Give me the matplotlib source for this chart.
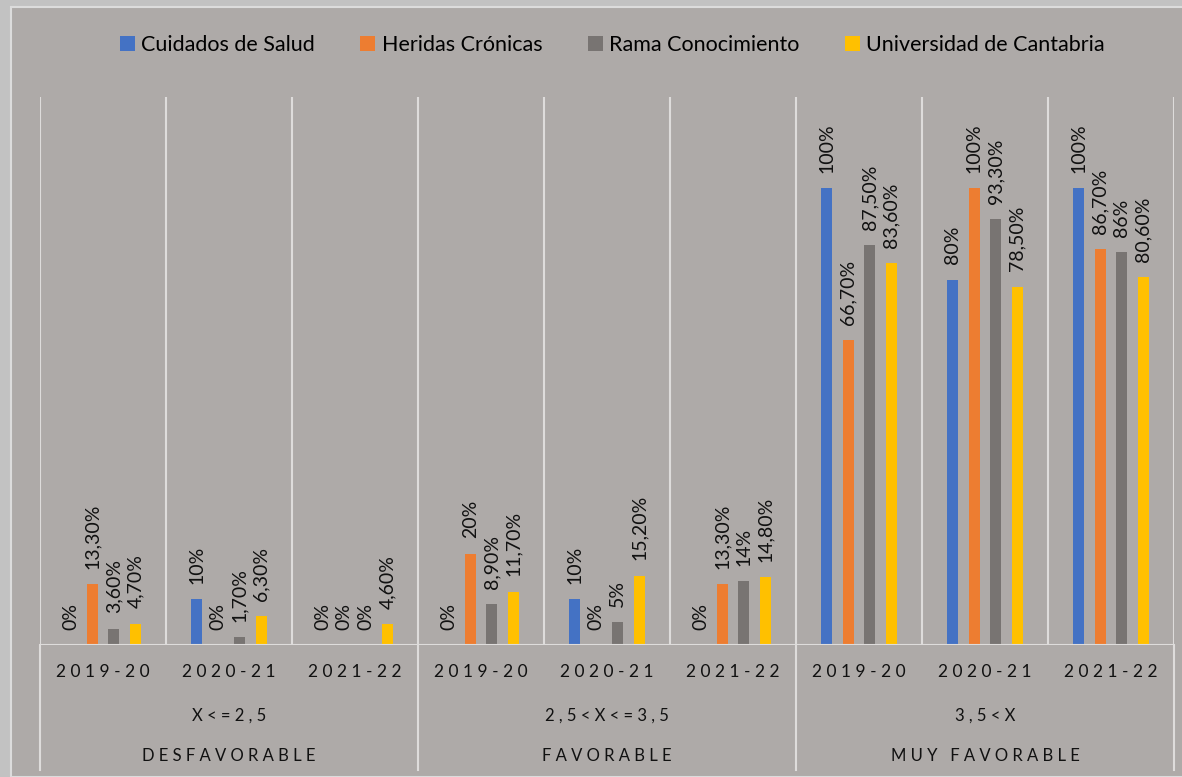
import numpy as np
import matplotlib.pyplot as plt
from matplotlib.patches import Rectangle

years = ['2019-20', '2020-21', '2021-22'] * 3
ranges = ['X<=2,5', '2,5<X<=3,5', '3,5<X']
groups = ['DESFAVORABLE', 'FAVORABLE', 'MUY FAVORABLE']

series = ['Cuidados de Salud', 'Heridas Crónicas', 'Rama Conocimiento', 'Universidad de Cantabria']
cuidados = [0, 10, 0, 0, 10, 0, 100, 80, 100]
heridas = [13.3, 0, 0, 20, 0, 13.3, 66.7, 100, 86.7]
rama = [3.6, 1.7, 0, 8.9, 5, 14, 87.5, 93.3, 86]
universidad = [4.7, 6.3, 4.6, 11.7, 15.2, 14.8, 83.6, 78.5, 80.6]
colors = ['#4472c4', '#ed7d31', '#787472', '#ffc000']

plt.rcParams['font.family'] = ['Lato', 'DejaVu Sans']

def fmt(v):
    if float(v).is_integer():
        return f'{int(v)}%'
    return f'{v:.2f}'.replace('.', ',') + '%'

def spaced(s, sep=' '):
    return sep.join(s)

fig = plt.figure(figsize=(11.82, 7.77), dpi=100, facecolor='#c2c2c2')
fig.add_artist(Rectangle((11 / 1182, 0), 1, 1 - 7 / 777, transform=fig.transFigure,
                         facecolor='#aeaaa8', edgecolor='#dcdcdc', lw=1.5, zorder=-10))
ax = fig.add_axes([40 / 1182, 1 - 645 / 777, 1134 / 1182, 548 / 777])
ax.set_facecolor('none')
ax.set_zorder(1)

x = np.arange(len(years))
width = 0.087
step = 0.171
for i, (name, vals) in enumerate(zip(series, [cuidados, heridas, rama, universidad])):
    pos = x + (i - 1.5) * step
    ax.bar(pos, vals, width, color=colors[i], label=name, zorder=3)
    for px, v in zip(pos, vals):
        ax.annotate(fmt(v), (px, v), xytext=(0, 11), textcoords='offset points',
                    rotation=90, ha='center', va='bottom', fontsize=14, color='#111111')

ax.set_xlim(-0.5, len(years) - 0.5)
ax.set_ylim(0, 120)
ax.set_yticks([])
ax.set_xticks([])
for s in ax.spines.values():
    s.set_visible(False)

grid_c = '#dedcdb'
for b in np.arange(-0.5, len(years), 1):
    ax.axvline(b, color=grid_c, lw=1.5, zorder=1)
ax.axhline(0, color=grid_c, lw=1.5, zorder=4)

# multi-level category axis
for b in [-0.5, 2.5, 5.5, 8.5]:
    ax.plot([b, b], [0, -0.228], color=grid_c, lw=1.5, clip_on=False,
            transform=ax.get_xaxis_transform())
for xi, yr in zip(x, years):
    ax.text(xi, -0.05, spaced(yr), ha='center', va='center', fontsize=12.5,
            transform=ax.get_xaxis_transform(), color='#111111')
for g, (r, name) in enumerate(zip(ranges, groups)):
    ax.text(3 * g + 1, -0.128, spaced(r), ha='center', va='center', fontsize=12,
            transform=ax.get_xaxis_transform(), color='#111111')
    ax.text(3 * g + 1, -0.203, spaced(name), ha='center', va='center', fontsize=12,
            transform=ax.get_xaxis_transform(), color='#111111')

ax.legend(loc='center', bbox_to_anchor=(0.518, 1 - 45 / 777), bbox_transform=fig.transFigure,
          ncol=4, frameon=False, fontsize=15.5, handlelength=0.7, handleheight=0.7,
          handletextpad=0.3, columnspacing=2.1)

fig.savefig('out.png', dpi=100, facecolor=fig.get_facecolor())
